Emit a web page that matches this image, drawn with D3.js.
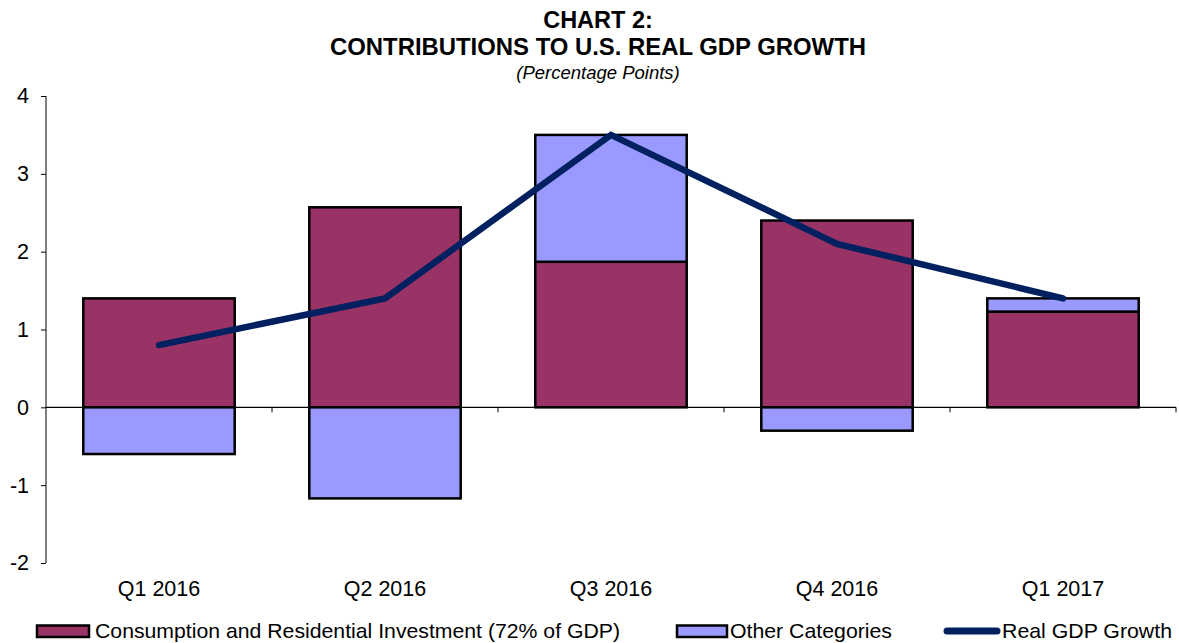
<!DOCTYPE html>
<html><head><meta charset="utf-8">
<script src="https://cdn.jsdelivr.net/npm/d3@7"></script>
<style>body{margin:0;background:#fff}svg{display:block;font-family:"Liberation Sans",Arial,sans-serif}</style>
</head><body><svg id="c" width="1179" height="643"></svg>
<script>
const categories = ["Q1 2016","Q2 2016","Q3 2016","Q4 2016","Q1 2017"];
const consumption = [1.40, 2.57, 1.87, 2.40, 1.23];
const otherCats = [-0.60, -1.17, 1.63, -0.30, 0.17];
const gdpGrowth = [0.8, 1.4, 3.5, 2.1, 1.4];
const yTicks = [-2,-1,0,1,2,3,4];
const seriesNames = ["Consumption and Residential Investment (72% of GDP)","Other Categories","Real GDP Growth"];

const svg = d3.select("#c");
const colC = "#993366", colO = "#9999FF", colL = "#002060";
const x = d3.scaleBand().domain(categories).range([46,1176]).paddingInner(0.33).paddingOuter(0.165);
const y = d3.scaleLinear().domain([-2,4]).range([563,96]);

// title
svg.append("text").attr("x",598).attr("y",28).attr("text-anchor","middle").attr("font-weight","bold").attr("font-size",23.5).text("CHART 2:");
svg.append("text").attr("x",598).attr("y",55).attr("text-anchor","middle").attr("font-weight","bold").attr("font-size",23.5).attr("textLength",536).attr("lengthAdjust","spacingAndGlyphs").text("CONTRIBUTIONS TO U.S. REAL GDP GROWTH");
svg.append("text").attr("x",598).attr("y",79).attr("text-anchor","middle").attr("font-style","italic").attr("font-size",18.5).text("(Percentage Points)");

// y axis
const ya = svg.append("g").attr("transform","translate(46,0)").call(d3.axisLeft(y).tickValues(yTicks).tickSize(5).tickPadding(12).tickFormat(d=>String(d)));
ya.select(".domain").attr("stroke","#000").attr("d","M0,"+y(4)+"V"+y(-2));
ya.selectAll("text").attr("font-size",21.5).attr("fill","#000").attr("font-family","Liberation Sans, Arial, sans-serif");

// bars
const stacks = categories.map((c,i)=>{
  const segs=[];
  let pos=0,neg=0;
  [[consumption[i],colC],[otherCats[i],colO]].forEach(([v,col])=>{
    if(v>=0){segs.push({c,y0:pos,y1:pos+v,col});pos+=v;}
    else{segs.push({c,y0:neg+v,y1:neg,col});neg+=v;}
  });
  return segs;
}).flat();
svg.append("g").selectAll("rect").data(stacks).join("rect")
  .attr("x",d=>x(d.c)).attr("width",x.bandwidth())
  .attr("y",d=>y(d.y1)).attr("height",d=>y(d.y0)-y(d.y1))
  .attr("fill",d=>d.col).attr("stroke","#000").attr("stroke-width",2.5);

// x axis at zero
const xa = svg.append("g").attr("transform","translate(0,"+y(0)+")");
xa.append("line").attr("x1",46).attr("x2",1176).attr("stroke","#000").attr("stroke-width",1.2);
const bounds = categories.map((c,i)=>46 + (1176-46)/categories.length*(i+1));
xa.selectAll("line.t").data(bounds).join("line").attr("class","t").attr("x1",d=>d).attr("x2",d=>d).attr("y1",0).attr("y2",5).attr("stroke","#000");
svg.append("g").selectAll("text").data(categories).join("text")
  .attr("x",d=>x(d)+x.bandwidth()/2).attr("y",596).attr("text-anchor","middle").attr("font-size",21.5).text(d=>d);

// line
svg.append("path").datum(gdpGrowth).attr("fill","none").attr("stroke",colL).attr("stroke-width",6.5).attr("stroke-linecap","round").attr("stroke-linejoin","miter")
  .attr("d",d3.line().x((d,i)=>x(categories[i])+x.bandwidth()/2).y(d=>y(d)));

// legend
const lg = svg.append("g");
const items=[{x:37,w:52,type:"rect",col:colC,tx:95,tw:525},{x:677,w:50,type:"rect",col:colO,tx:730,tw:162},{x:944,w:56,type:"line",col:colL,tx:1002,tw:170}];
items.forEach((it,i)=>{
  if(it.type==="rect") lg.append("rect").attr("x",it.x).attr("y",625.5).attr("width",it.w).attr("height",11.5).attr("fill",it.col).attr("stroke","#000").attr("stroke-width",2.5);
  else lg.append("line").attr("x1",it.x+3).attr("x2",it.x+it.w-3).attr("y1",631).attr("y2",631).attr("stroke",it.col).attr("stroke-width",7).attr("stroke-linecap","round");
  lg.append("text").attr("x",it.tx).attr("y",638).attr("font-size",21).attr("textLength",it.tw).attr("lengthAdjust","spacingAndGlyphs").text(seriesNames[i]);
});
</script></body></html>
